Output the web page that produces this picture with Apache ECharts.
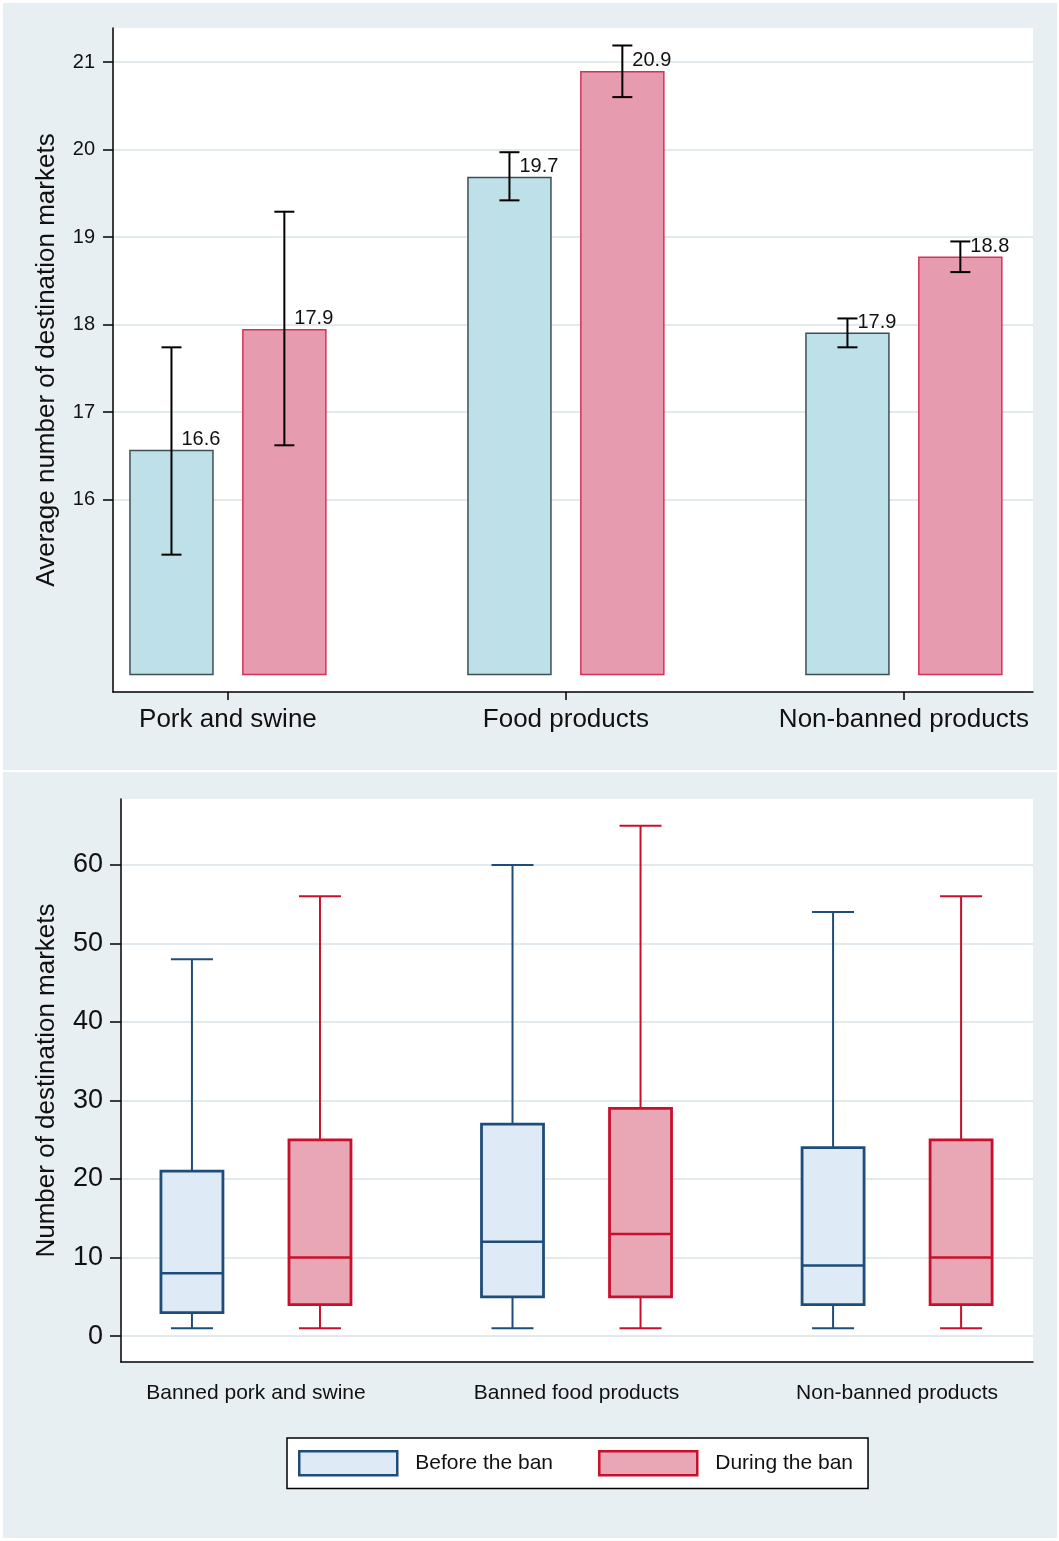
<!DOCTYPE html>
<html><head><meta charset="utf-8">
<script src="https://cdn.jsdelivr.net/npm/echarts@6/dist/echarts.min.js"></script>
<style>html,body{margin:0;padding:0;background:#fff}#c{width:1059px;height:1541px}</style>
</head><body><div id="c"></div>
<script>
// ---------- data ----------
const topCategories = ['Pork and swine', 'Food products', 'Non-banned products'];
const meanBefore   = [16.56, 19.68, 17.90];
const meanDuring   = [17.94, 20.89, 18.77];
const ciBeforeLow  = [15.37, 19.42, 17.74];
const ciBeforeHigh = [17.74, 19.97, 18.07];
const ciDuringLow  = [16.62, 20.60, 18.60];
const ciDuringHigh = [19.29, 21.19, 18.95];
const topTicks = [16, 17, 18, 19, 20, 21];

const boxCategories = ['Banned pork and swine', 'Banned food products', 'Non-banned products'];
// [min, q1, median, q3, max]
const boxBefore = [[1, 3, 8, 21, 48], [1, 5, 12, 27, 60], [1, 4, 9, 24, 54]];
const boxDuring = [[1, 4, 10, 25, 56], [1, 5, 13, 29, 65], [1, 4, 10, 25, 56]];
const boxTicks = [0, 10, 20, 30, 40, 50, 60];
const legendNames = ['Before the ban', 'During the ban'];
const catIndex = [0, 1, 2];

// ---------- style ----------
const FONT = '"Liberation Sans", Arial, Helvetica, sans-serif';
const PANEL_BG = '#e8eff2';
const GRID_LINE = '#e2eaee';
const BAR_BASE = 14;
const BAR_W = 83 / 338;
const BAR_OFF = 0.167;
const BOX_OFF = 64 / 320.5;

function barRenderer(offset, fill, stroke) {
  return function (params, api) {
    const x = api.value(0) + offset, v = api.value(1), lo = api.value(2), hi = api.value(3);
    const pA = api.coord([x - BAR_W / 2, BAR_BASE]);
    const pB = api.coord([x + BAR_W / 2, v]);
    const pc = api.coord([x, v]);
    const pLo = api.coord([x, lo]), pHi = api.coord([x, hi]);
    const cap = 10;
    return {
      type: 'group', children: [
        { type: 'rect', shape: { x: pA[0], y: pB[1], width: pB[0] - pA[0], height: pA[1] - pB[1] },
          style: { fill: fill, stroke: stroke, lineWidth: 1.5 } },
        { type: 'line', shape: { x1: pc[0], y1: pLo[1], x2: pc[0], y2: pHi[1] }, style: { stroke: '#000', lineWidth: 2 } },
        { type: 'line', shape: { x1: pc[0] - cap, y1: pLo[1], x2: pc[0] + cap, y2: pLo[1] }, style: { stroke: '#000', lineWidth: 2 } },
        { type: 'line', shape: { x1: pc[0] - cap, y1: pHi[1], x2: pc[0] + cap, y2: pHi[1] }, style: { stroke: '#000', lineWidth: 2 } },
        { type: 'text', x: pc[0] + 10, y: pc[1] - 11,
          style: { text: v.toFixed(1), fontSize: 20, fontFamily: FONT, fill: '#111', align: 'left', verticalAlign: 'middle' } }
      ]
    };
  };
}

function boxRenderer(offset, fill, stroke) {
  return function (params, api) {
    const x = api.value(0) + offset;
    const mn = api.coord([x, api.value(1)]), q1 = api.coord([x, api.value(2)]),
          md = api.coord([x, api.value(3)]), q3 = api.coord([x, api.value(4)]),
          mx = api.coord([x, api.value(5)]);
    const cx = mn[0], hw = 31, cap = 21;
    return {
      type: 'group', children: [
        { type: 'line', shape: { x1: cx, y1: mx[1], x2: cx, y2: q3[1] }, style: { stroke: stroke, lineWidth: 2 } },
        { type: 'line', shape: { x1: cx, y1: q1[1], x2: cx, y2: mn[1] }, style: { stroke: stroke, lineWidth: 2 } },
        { type: 'line', shape: { x1: cx - cap, y1: mx[1], x2: cx + cap, y2: mx[1] }, style: { stroke: stroke, lineWidth: 2 } },
        { type: 'line', shape: { x1: cx - cap, y1: mn[1], x2: cx + cap, y2: mn[1] }, style: { stroke: stroke, lineWidth: 2 } },
        { type: 'rect', shape: { x: cx - hw, y: q3[1], width: 2 * hw, height: q1[1] - q3[1] },
          style: { fill: fill, stroke: stroke, lineWidth: 2.8 } },
        { type: 'line', shape: { x1: cx - hw, y1: md[1], x2: cx + hw, y2: md[1] }, style: { stroke: stroke, lineWidth: 2.5 } }
      ]
    };
  };
}

const chart = echarts.init(document.getElementById('c'), null, { renderer: 'canvas' });
chart.setOption({
  animation: false,
  backgroundColor: '#ffffff',
  textStyle: { fontFamily: FONT },
  graphic: [
    { type: 'rect', z: -100, shape: { x: 3, y: 3, width: 1054, height: 767 }, style: { fill: PANEL_BG } },
    { type: 'rect', z: -100, shape: { x: 3, y: 772, width: 1054, height: 766 }, style: { fill: PANEL_BG } }
  ],
  grid: [
    { left: 113, top: 28, width: 920, height: 664, show: true, backgroundColor: '#fff', borderWidth: 0 },
    { left: 121, top: 799, width: 912, height: 563, show: true, backgroundColor: '#fff', borderWidth: 0 }
  ],
  xAxis: [
    { type: 'value', gridIndex: 0, min: -0.34, max: 2.382,
      axisLine: { show: true, onZero: false, lineStyle: { color: '#000', width: 1.5 } },
      axisTick: { show: true, customValues: catIndex, length: 8, lineStyle: { color: '#000', width: 1.5 } },
      axisLabel: { customValues: catIndex, formatter: v => topCategories[Math.round(v)],
        fontSize: 26, color: '#111', margin: 15, fontFamily: FONT },
      splitLine: { show: false } },
    { type: 'value', gridIndex: 1, min: -0.421, max: 2.424,
      axisLine: { show: true, onZero: false, lineStyle: { color: '#000', width: 1.5 } },
      axisTick: { show: false, customValues: catIndex },
      axisLabel: { customValues: catIndex, formatter: v => boxCategories[Math.round(v)],
        fontSize: 21, color: '#111', margin: 21, fontFamily: FONT },
      splitLine: { show: false } }
  ],
  yAxis: [
    { type: 'value', gridIndex: 0, min: 13.8, max: 21.39,
      name: 'Average number of destination markets', nameLocation: 'middle', nameGap: 53,
      nameTextStyle: { fontSize: 26, color: '#111', fontFamily: FONT },
      axisLine: { show: true, onZero: false, lineStyle: { color: '#000', width: 1.5 } },
      axisTick: { show: true, customValues: topTicks, length: 10, lineStyle: { color: '#000', width: 1.5 } },
      axisLabel: { customValues: topTicks, fontSize: 20, color: '#111', margin: 18, fontFamily: FONT },
      splitLine: { show: true, lineStyle: { color: GRID_LINE, width: 2 } } },
    { type: 'value', gridIndex: 1, min: -3.3, max: 68.4,
      name: 'Number of destination markets', nameLocation: 'middle', nameGap: 61,
      nameTextStyle: { fontSize: 26, color: '#111', fontFamily: FONT },
      axisLine: { show: true, onZero: false, lineStyle: { color: '#000', width: 1.5 } },
      axisTick: { show: true, customValues: boxTicks, length: 11, lineStyle: { color: '#000', width: 1.5 } },
      axisLabel: { customValues: boxTicks, fontSize: 27, color: '#111', margin: 18, fontFamily: FONT },
      splitLine: { show: true, lineStyle: { color: GRID_LINE, width: 2 } } }
  ],
  legend: {
    left: 287, top: 1438, orient: 'horizontal',
    itemWidth: 98, itemHeight: 24, itemGap: 45,
    padding: [12, 15, 12, 11],
    backgroundColor: '#fff', borderColor: '#000', borderWidth: 1.5, borderRadius: 0,
    textStyle: { fontSize: 21, color: '#111', fontFamily: FONT, padding: [0, 0, 0, 13] },
    selectedMode: false,
    data: [
      { name: legendNames[0], icon: 'rect', itemStyle: { color: '#deebf7', borderColor: '#1f4d7a', borderWidth: 2.5 } },
      { name: legendNames[1], icon: 'rect', itemStyle: { color: '#e9a7b5', borderColor: '#c8102e', borderWidth: 2.5 } }
    ]
  },
  series: [
    { type: 'custom', name: 'Mean before', xAxisIndex: 0, yAxisIndex: 0, clip: false,
      renderItem: barRenderer(-BAR_OFF, '#bee0e8', '#3d4f55'),
      data: catIndex.map(i => [i, meanBefore[i], ciBeforeLow[i], ciBeforeHigh[i]]) },
    { type: 'custom', name: 'Mean during', xAxisIndex: 0, yAxisIndex: 0, clip: false,
      renderItem: barRenderer(BAR_OFF, '#e69bae', '#d4325a'),
      data: catIndex.map(i => [i, meanDuring[i], ciDuringLow[i], ciDuringHigh[i]]) },
    { type: 'custom', name: legendNames[0], xAxisIndex: 1, yAxisIndex: 1, clip: false,
      itemStyle: { color: '#deebf7', borderColor: '#1f4d7a' },
      renderItem: boxRenderer(-BOX_OFF, '#deebf7', '#1f4d7a'),
      data: catIndex.map(i => [i].concat(boxBefore[i])) },
    { type: 'custom', name: legendNames[1], xAxisIndex: 1, yAxisIndex: 1, clip: false,
      itemStyle: { color: '#e9a7b5', borderColor: '#c8102e' },
      renderItem: boxRenderer(BOX_OFF, '#e9a7b5', '#c8102e'),
      data: catIndex.map(i => [i].concat(boxDuring[i])) }
  ]
});
</script>
</body></html>
